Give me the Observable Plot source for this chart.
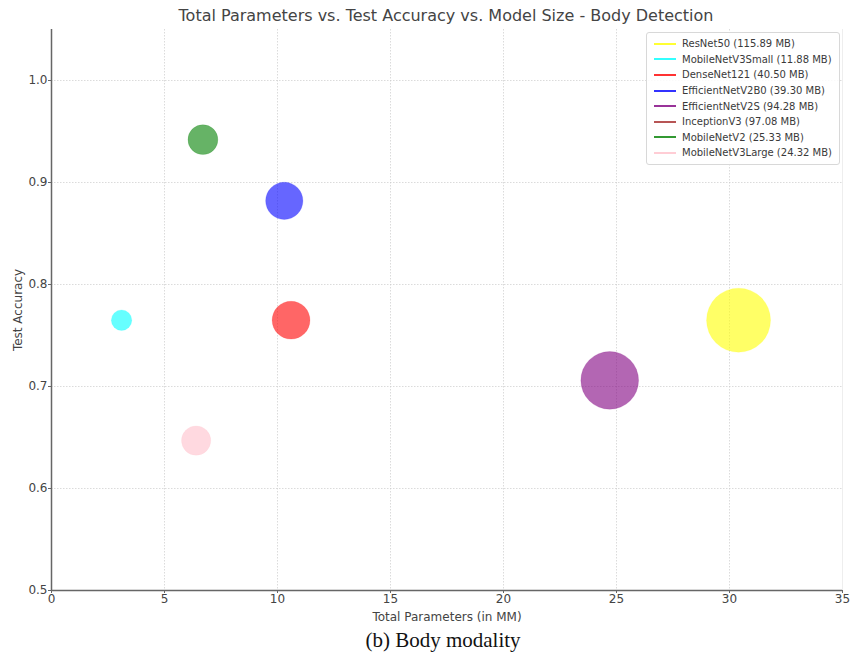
<!DOCTYPE html>
<html>
<head>
<meta charset="utf-8">
<script src="https://cdn.jsdelivr.net/npm/d3@7"></script>
<script src="https://cdn.jsdelivr.net/npm/@observablehq/plot@0.6"></script>
<style>
  body { margin: 0; background: #fff; font-family: "DejaVu Sans", sans-serif; }
  #wrap { position: relative; width: 850px; height: 656px; }
  #title { position: absolute; left: 0; top: 6px; width: 850px; text-align: center; padding-left: 42px; box-sizing: border-box;
           font: 16px "DejaVu Sans", sans-serif; color: #444; }
  #chart { position: absolute; left: 0; top: 0; }
  #legend { position: absolute; left: 646px; top: 32px; width: 192px; border: 1px solid #d8d8d8; border-radius: 3px;
            background: rgba(255,255,255,0.85); padding: 3px 0 3px 0; font: 10px "DejaVu Sans", sans-serif; color: #3a3a3a; }
  .row { height: 15.6px; display: flex; align-items: center; }
  .sw { width: 22px; height: 2px; margin-left: 7px; margin-right: 6px; opacity: 0.8; }
  #caption { position: absolute; left: 0; top: 628px; width: 850px; text-align: center; padding-left: 36px; box-sizing: border-box;
             font: 21px "Liberation Serif", "Times New Roman", serif; color: #111; }
</style>
</head>
<body>
<div id="wrap">
  <div id="chart"></div>
  <div id="title">Total Parameters vs. Test Accuracy vs. Model Size - Body Detection</div>
  <div id="legend"></div>
  <div id="caption">(b) Body modality</div>
</div>
<script>
const models = ["ResNet50", "MobileNetV3Small", "DenseNet121", "EfficientNetV2B0", "EfficientNetV2S", "InceptionV3", "MobileNetV2", "MobileNetV3Large"];
const sizesMB = [115.89, 11.88, 40.50, 39.30, 94.28, 97.08, 25.33, 24.32];
const colors = ["yellow", "cyan", "red", "blue", "purple", "brown", "green", "pink"];
// Total parameters (millions) and test accuracy; InceptionV3 is not visible in the plot area
const params = [30.4, 3.1, 10.6, 10.3, 24.7, null, 6.7, 6.4];
const accuracy = [0.765, 0.765, 0.765, 0.882, 0.706, null, 0.942, 0.647];
const xTicks = [0, 5, 10, 15, 20, 25, 30, 35];
const yTicks = [0.5, 0.6, 0.7, 0.8, 0.9, 1.0];

const data = models.map((m, i) => ({model: m, size: sizesMB[i], color: colors[i], x: params[i], y: accuracy[i]}))
  .filter(d => d.x != null);

const plot = Plot.plot({
  width: 850,
  height: 625,
  marginLeft: 51,
  marginRight: 8,
  marginTop: 29,
  marginBottom: 35,
  style: {fontFamily: "DejaVu Sans, sans-serif", fontSize: "12px", color: "#444", background: "transparent"},
  x: {domain: [0, 35], ticks: xTicks, tickSize: 3, tickPadding: 2, label: "Total Parameters (in MM)", labelAnchor: "center", labelArrow: "none", labelOffset: 34},
  y: {domain: [0.5, 1.05], ticks: yTicks, tickSize: 3, tickPadding: 2, tickFormat: d3.format(".1f"), label: "Test Accuracy", labelAnchor: "center", labelArrow: "none", labelOffset: 44},
  r: {type: "sqrt", domain: [0, 115.89], range: [0, 32]},
  marks: [
    Plot.gridX(xTicks, {stroke: "#ccc", strokeOpacity: 0.7, strokeDasharray: "1.5,1.5"}),
    Plot.gridY(yTicks, {stroke: "#ccc", strokeOpacity: 0.7, strokeDasharray: "1.5,1.5"}),
    Plot.dot(data, {x: "x", y: "y", r: "size", fill: "color", fillOpacity: 0.6, stroke: "color", strokeOpacity: 0.15, strokeWidth: 1}),
    Plot.axisX({ticks: xTicks, tickSize: 3, tickPadding: 1, stroke: "#666", fill: "#444", label: "Total Parameters (in MM)", labelAnchor: "center", labelArrow: "none", labelOffset: 30, fontSize: 12}),
    Plot.axisY({ticks: yTicks, tickSize: 3, tickPadding: 1, tickFormat: d3.format(".1f"), stroke: "#666", fill: "#444", label: "Test Accuracy", labelAnchor: "center", labelArrow: "none", labelOffset: 38, fontSize: 12}),
    Plot.ruleX([0], {stroke: "#666", strokeWidth: 1.5}),
    Plot.ruleY([0.5], {stroke: "#666", strokeWidth: 1.5}),
    Plot.ruleX([35], {stroke: "#eee", strokeWidth: 1})
  ]
});
document.getElementById("chart").appendChild(plot);

const legend = document.getElementById("legend");
models.forEach((m, i) => {
  const row = document.createElement("div");
  row.className = "row";
  const sw = document.createElement("div");
  sw.className = "sw";
  sw.style.background = colors[i];
  const t = document.createElement("span");
  t.textContent = `${m} (${sizesMB[i].toFixed(2)} MB)`;
  row.appendChild(sw); row.appendChild(t);
  legend.appendChild(row);
});
</script>
</body>
</html>
